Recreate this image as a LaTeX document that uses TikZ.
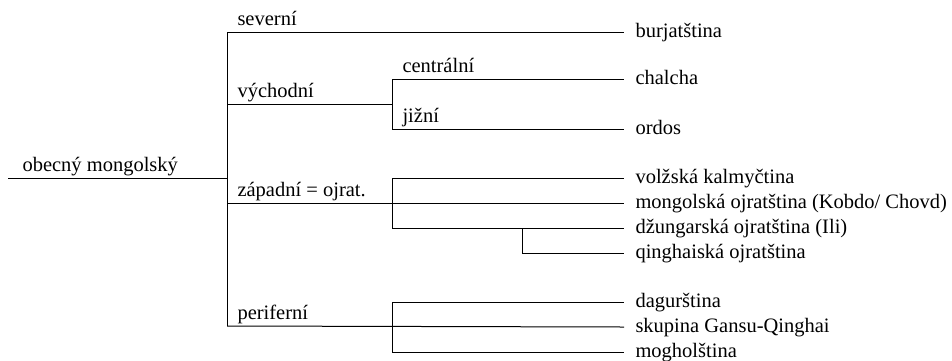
\documentclass[tikz,border=0pt]{standalone}
\usepackage{fontspec}
\setmainfont{Liberation Serif}
\newfontfamily\treefont{Liberation Serif}
\usepackage{tikz}
\usetikzlibrary{positioning}

\begin{document}
\begin{tikzpicture}[x=1pt, y=-1pt, line width=1pt,
    every node/.style={font=\treefont\fontsize{20.5}{24}\selectfont},
    lang/.style={anchor=west, inner xsep=11pt, inner ysep=0pt, text height=14pt, text depth=4pt},
    grp/.style={anchor=south west, inner xsep=10pt, inner ysep=6pt, text depth=0pt}]
  \useasboundingbox (0,0) rectangle (952,360);
  % branch points
  \coordinate (root) at (8,178);
  \coordinate (t-o) at (227,178);
  \coordinate (t-s) at (227,32);
  \coordinate (t-v) at (227,104);
  \coordinate (t-z) at (227,203);
  \coordinate (t-p) at (227,326);
  \coordinate (v-o) at (392,104);
  \coordinate (v-c) at (392,79);
  \coordinate (v-j) at (392,129);
  \coordinate (z-v) at (392,178);
  \coordinate (z-d) at (392,228);
  \coordinate (d-o) at (522,228);
  \coordinate (d-q) at (522,253);
  \coordinate (p-d) at (392,302);
  \coordinate (p-m) at (392,352);
  % languages
  \node[lang] (bur) at (624,32) {burjatština};
  \node[lang] (cha) at (624,79) {chalcha};
  \node[lang] (ord) at (624,129) {ordos};
  \node[lang] (vol) at (624,178) {volžská kalmyčtina};
  \node[lang] (mon) at (624,203) {mongolská ojratština (Kobdo/ Chovd)};
  \node[lang] (dzu) at (624,228) {džungarská ojratština (Ili)};
  \node[lang] (qin) at (624,253) {qinghaiská ojratština};
  \node[lang] (dag) at (624,302) {dagurština};
  \node[lang] (gan) at (624,327) {skupina Gansu-Qinghai};
  \node[lang] (mog) at (624,352) {mogholština};
  % groups
  \node[grp, xshift=4pt] (obe) at (root) {obecný mongolský};
  \node[grp] (sev) at (t-s) {severní};
  \node[grp] (vyc) at (t-v) {východní};
  \node[grp] (cen) at (v-c) {centrální};
  \node[grp] (jiz) at (v-j) {jižní};
  \node[grp] (zap) at (t-z) {západní = ojrat.};
  \node[grp] (per) at (t-p) {periferní};

  \draw (root) -- (t-o);
  \draw (t-s) -- (t-p);
  \draw (t-s) -- (bur.west);
  \draw (t-v) -- (v-o);
  \draw (v-c) -- (v-j);
  \draw (v-c) -- (cha.west);
  \draw (v-j) -- (ord.west);
  \draw (t-z) -- (mon.west);
  \draw (z-v) -- (z-d);
  \draw (z-v) -- (vol.west);
  \draw (z-d) -- (dzu.west);
  \draw (d-o) -- (d-q) -- (qin.west);
  \draw (t-p) -- (gan.west);
  \draw (p-d) -- (p-m);
  \draw (p-d) -- (dag.west);
  \draw (p-m) -- (mog.west);
\end{tikzpicture}
\end{document}
